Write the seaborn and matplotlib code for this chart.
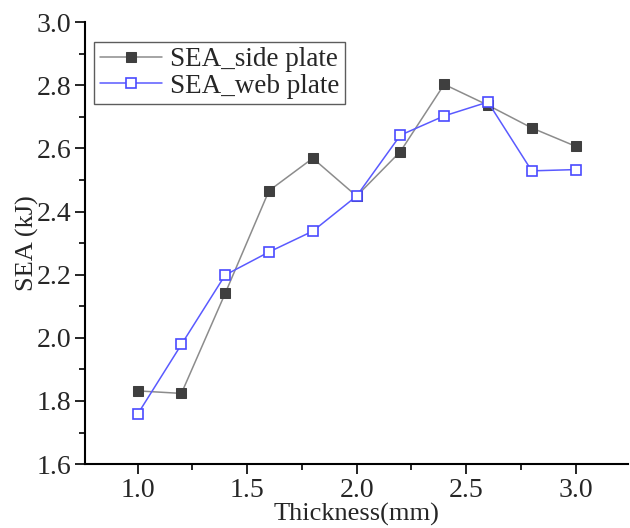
import numpy as np
import pandas as pd
import matplotlib
matplotlib.use('Agg')
import matplotlib.pyplot as plt
from matplotlib.ticker import MultipleLocator
import seaborn as sns

# --- data ---
thickness = [1.0, 1.2, 1.4, 1.6, 1.8, 2.0, 2.2, 2.4, 2.6, 2.8, 3.0]
sea_side = [1.832, 1.824, 2.141, 2.466, 2.569, 2.449, 2.590, 2.803, 2.737, 2.665, 2.607]
sea_web = [1.758, 1.979, 2.199, 2.272, 2.338, 2.449, 2.642, 2.703, 2.747, 2.529, 2.533]

df = pd.DataFrame({'Thickness': thickness, 'side': sea_side, 'web': sea_web})

sns.set_style('ticks')
plt.rcParams['font.family'] = ['Liberation Serif', 'DejaVu Serif']

fig = plt.figure(figsize=(6.3, 5.28), dpi=100)
ax = fig.add_axes([0.135, 0.121, 0.862, 0.837])

sns.lineplot(data=df, x='Thickness', y='side', ax=ax, color='#8c8c8c', lw=1.1,
             marker='s', markersize=6.5, markerfacecolor='#3f3f3f',
             markeredgecolor='#3f3f3f', label='SEA_side plate')
sns.lineplot(data=df, x='Thickness', y='web', ax=ax, color='#5a5aff', lw=1.1,
             marker='s', markersize=6.5, markerfacecolor='white',
             markeredgecolor='#4a4aff', markeredgewidth=1.2, label='SEA_web plate')

ax.set_xlim(0.76, 3.24)
ax.set_ylim(1.6, 3.0)
ax.xaxis.set_major_locator(MultipleLocator(0.5))
ax.xaxis.set_minor_locator(MultipleLocator(0.25))
ax.yaxis.set_major_locator(MultipleLocator(0.2))
ax.yaxis.set_minor_locator(MultipleLocator(0.1))
ax.tick_params(which='major', direction='out', length=7, width=1.2, labelsize=20,
               color='black', pad=3)
ax.tick_params(which='minor', direction='out', length=4, width=1.2, color='black')
for s in ['left', 'bottom']:
    ax.spines[s].set_linewidth(1.5)
    ax.spines[s].set_color('black')
ax.spines['top'].set_visible(False)
ax.spines['right'].set_visible(False)

ax.set_xlabel('Thickness(mm)', fontsize=19, labelpad=0)
ax.set_ylabel('SEA (kJ)', fontsize=19, labelpad=-2)

leg = ax.legend(loc='upper left', bbox_to_anchor=(0.017, 0.955), fontsize=19.5,
                frameon=True, fancybox=False, borderpad=0.2, handlelength=2.3,
                handletextpad=0.3, labelspacing=0.05, borderaxespad=0)
leg.get_frame().set_edgecolor('#333333')
leg.get_frame().set_linewidth(1.0)

fig.savefig('out.png', dpi=100)
